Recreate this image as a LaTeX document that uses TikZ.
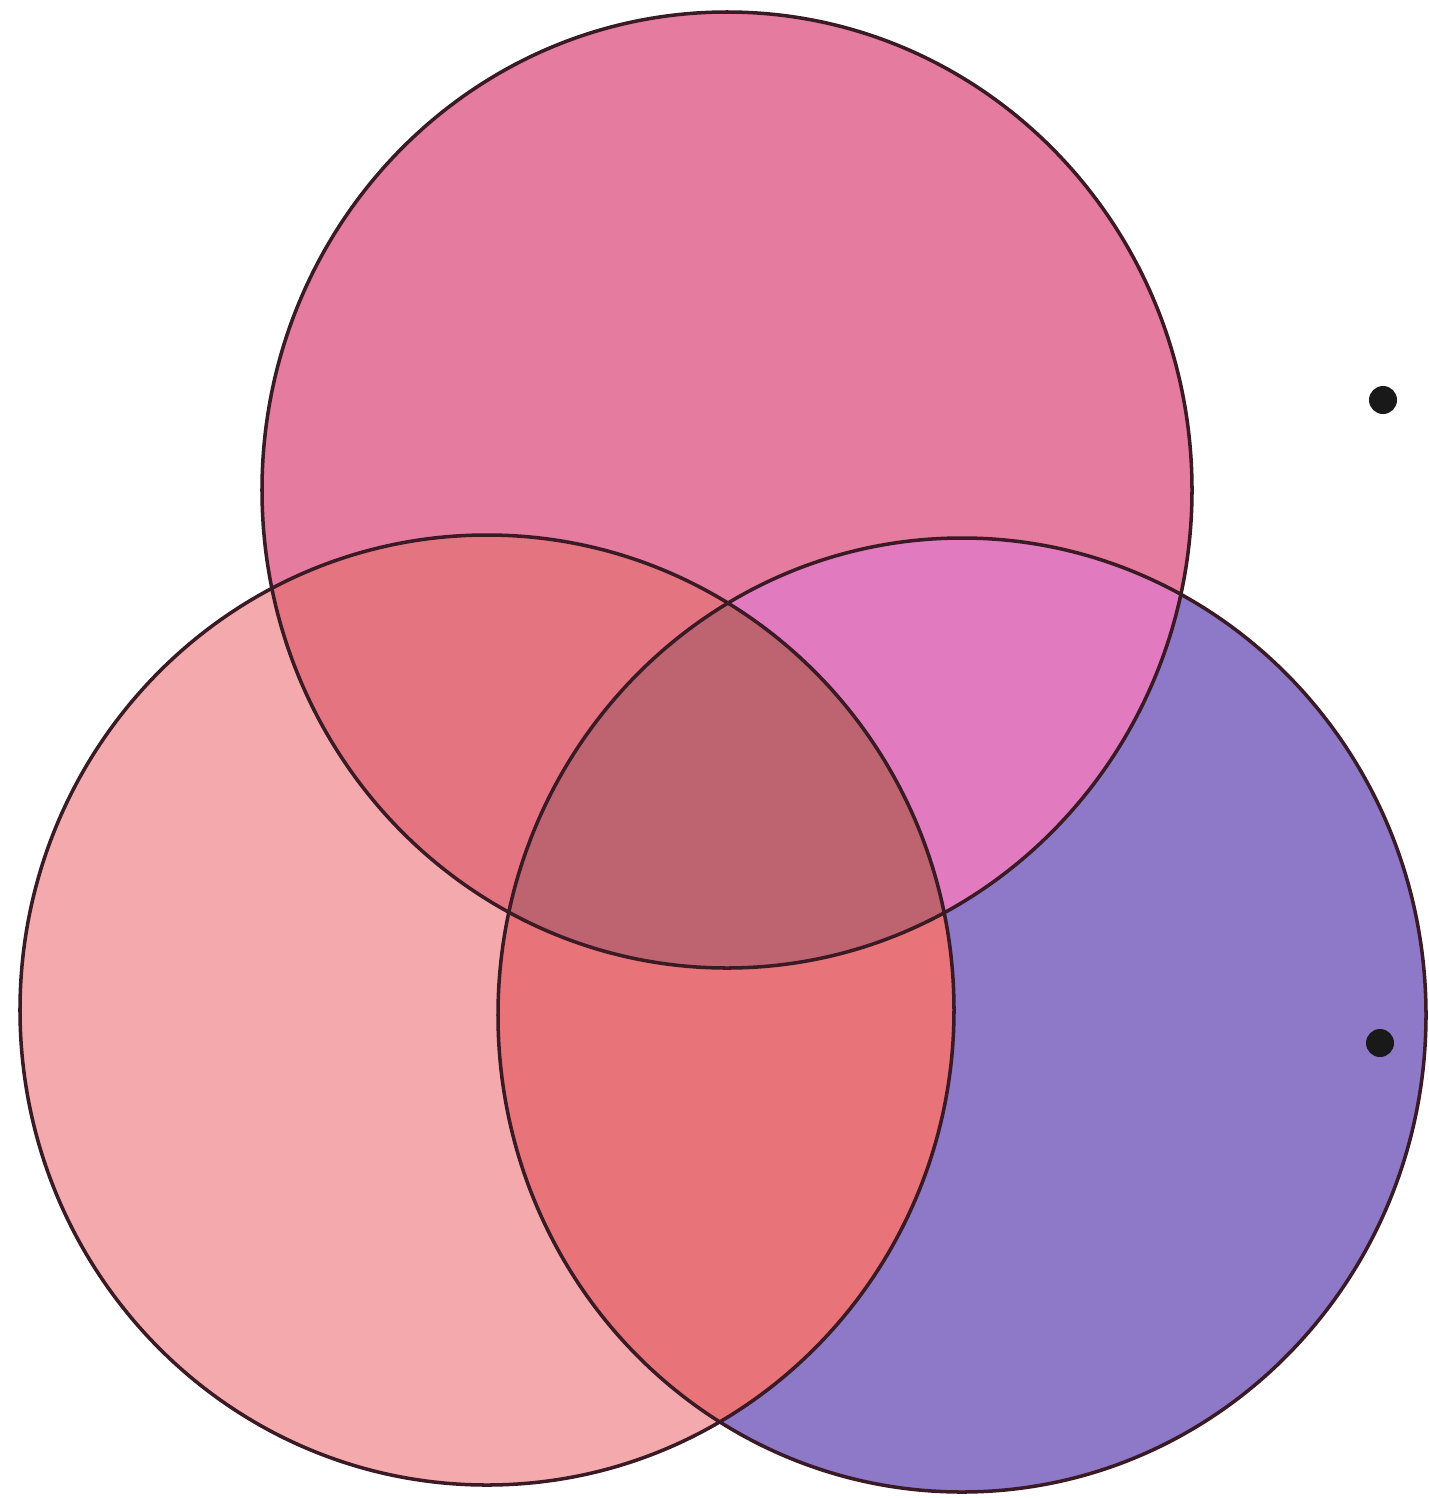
\documentclass[tikz,border=0pt]{standalone}
\definecolor{topc}{HTML}{E57B9E}
\definecolor{leftc}{HTML}{F4AAAC}
\definecolor{rightc}{HTML}{8E78C8}
\definecolor{tlc}{HTML}{E47480}
\definecolor{trc}{HTML}{E27AC0}
\definecolor{lrc}{HTML}{E87378}
\definecolor{midc}{HTML}{BE6470}
\definecolor{edgec}{HTML}{3A1A25}
\tikzset{
  outline/.style={draw=edgec, line width=2pt},
  dotmark/.style={fill=black!90}
}
\begin{document}
\begin{tikzpicture}[x=0.02cm,y=-0.02cm]
\useasboundingbox (0,0) rectangle (1428,1498);
\fill[white] (0,0) rectangle (1428,1498);
\coordinate (T) at (727,490);
\coordinate (L) at (487,1010);
\coordinate (R) at (962,1015);
\def\topshape{(T) ellipse [x radius=465, y radius=478]}
\def\leftshape{(L) ellipse [x radius=467, y radius=475]}
\def\rightshape{(R) ellipse [x radius=464, y radius=477]}
% single regions
\fill[topc] \topshape;
\fill[leftc] \leftshape;
\fill[rightc] \rightshape;
% pairwise
\begin{scope}
  \clip \topshape;
  \fill[tlc] \leftshape;
  \fill[trc] \rightshape;
\end{scope}
\begin{scope}
  \clip \leftshape;
  \fill[lrc] \rightshape;
\end{scope}
% centre
\begin{scope}
  \clip \topshape;
  \clip \leftshape;
  \fill[midc] \rightshape;
\end{scope}
% outlines
\draw[outline] \topshape;
\draw[outline] \leftshape;
\draw[outline] \rightshape;
% dots
\fill[dotmark] (1383,400) circle [radius=14];
\fill[dotmark] (1380,1043) circle [radius=14];
\end{tikzpicture}
\end{document}
